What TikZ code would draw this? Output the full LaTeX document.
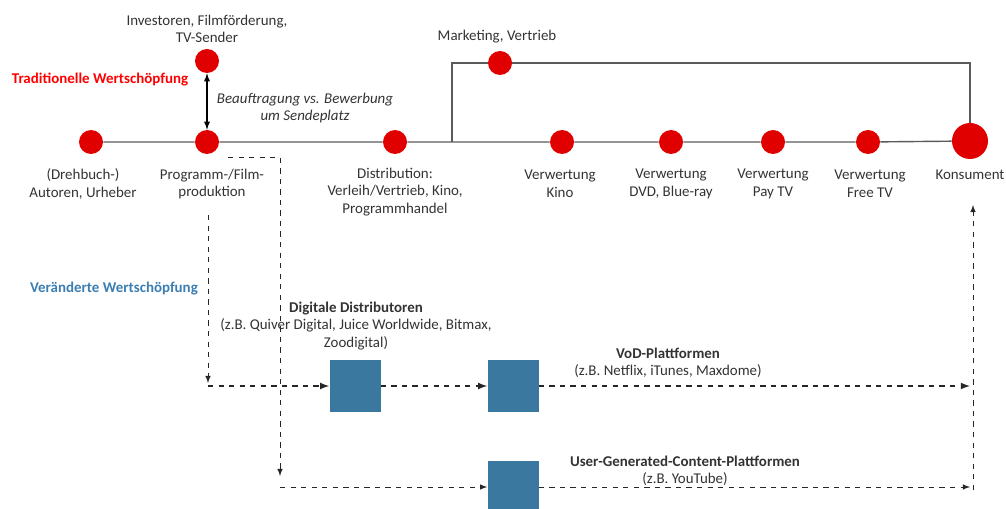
\documentclass[tikz,border=0pt]{standalone}
\usepackage{fontspec}
\setmainfont{Carlito}
\usetikzlibrary{positioning}

\definecolor{dotred}{HTML}{E00000}
\definecolor{boxblue}{HTML}{3B78A0}
\definecolor{textblue}{HTML}{3C7EB2}
\definecolor{linegray}{HTML}{5A5A5A}

\tikzset{
	chainpicture/.style = {
		x = 0.02cm,
		y = -0.02cm,
		>=latex,
		font = \fontsize{8.5}{10}\selectfont,
		flow/.style = {
			draw,
			dashed,
			->,
		}
	},
	dot/.style = {
		circle,
		fill = dotred,
		minimum size = 0.48cm,
		inner sep = 0pt
	},
	bigdot/.style = {
		dot,
		minimum size = 0.72cm
	},
	platform/.style = {
		rectangle,
		fill = boxblue,
		minimum width = 1.02cm,
		minimum height = 1.04cm,
		inner sep = 0pt
	},
	caption/.style = {
		align = center,
		text = black!80
	}
}

\begin{document}
\begin{tikzpicture}[chainpicture]
	\useasboundingbox (0,0) rectangle (1006,509);

	% traditionelle Kette
	\node[dot] (A) at (91,142) {};
	\node[dot] (P) at (207,142) {};
	\node[dot] (I) at (207,61) {};
	\node[dot] (D) at (395,142) {};
	\node[dot] (M) at (500,63) {};
	\node[dot] (VK) at (562,142) {};
	\node[dot] (VD) at (671,142) {};
	\node[dot] (VP) at (773,142) {};
	\node[dot] (VF) at (868,142) {};
	\node[bigdot] (K) at (970,141) {};

	\node[caption] (tA) at (83,184) {(Drehbuch-)\\Autoren, Urheber};
	\node[caption] (tP) at (212,184) {Programm-/Film-\\produktion};
	\node[caption] (tI) at (207,29) {Investoren, Filmförderung,\\TV-Sender};
	\node[caption] (tD) at (395,192) {Distribution:\\Verleih/Vertrieb, Kino,\\Programmhandel};
	\node[caption] (tM) at (497,37) {Marketing, Vertrieb};
	\node[caption] (tVK) at (560,184) {Verwertung\\Kino};
	\node[caption] (tVD) at (671,184) {Verwertung\\DVD, Blue-ray};
	\node[caption] (tVP) at (773,184) {Verwertung\\Pay TV};
	\node[caption] (tVF) at (870,184) {Verwertung\\Free TV};
	\node[caption] (tK) at (970,175) {Konsument};
	\node[caption, font = \fontsize{8.5}{10}\itshape] (tB) at (305,108) {Beauftragung vs. Bewerbung\\um Sendeplatz};

	\node[text = red, font = \fontsize{8.5}{10}\bfseries] (trad) at (100,80) {Traditionelle Wertschöpfung};
	\node[text = textblue, font = \fontsize{8.5}{10}\bfseries] (neu) at (114,289) {Veränderte Wertschöpfung};

	\begin{scope}[linegray, thick]
		\draw (A) -- (P) -- (D) -- (VK) -- (VD) -- (VP) -- (VF) -- (K);
		\coordinate (m1) at (452,142);
		\draw (m1) |- (M);
		\draw (M) -| (K);
		\draw[<->, black, semithick] (I) -- (P);
	\end{scope}

	% veraenderte Kette
	\node[platform] (DD) at (355,386) {};
	\node[platform] (VoD) at (513,386) {};
	\node[platform] (UGC) at (513,487) {};

	\node[caption] (tDD) at (356,326) {\textbf{Digitale Distributoren}\\(z.B. Quiver Digital, Juice Worldwide, Bitmax,\\Zoodigital)};
	\node[caption] (tVoD) at (668,363) {\textbf{VoD-Plattformen}\\(z.B. Netflix, iTunes, Maxdome)};
	\node[caption] (tUGC) at (685,471) {\textbf{User-Generated-Content-Plattformen}\\(z.B. YouTube)};

	\coordinate (p1) at (228,157);
	\coordinate (p2) at (280,476);
	\coordinate (p3) at (208,215);
	\coordinate (p4) at (208,383);
	\coordinate (p5) at (208,386);
	\coordinate (p6) at (280,487);
	\coordinate (k1) at (970,386);
	\coordinate (k2) at (970,487);
	\coordinate (k3) at (973,490);
	\coordinate (k4) at (973,205);

	\begin{scope}[every path/.style = flow, black!85]
		\path (p1) -| (p2);
		\path (p3) -- (p4);
		\path[thick] (p5) -- (DD);
		\path (p6) -- (UGC);
		\path[thick] (DD) -- (VoD);
		\path[thick] (VoD) -- (k1);
		\path (UGC) -- (k2);
		\path (k3) -- (k4);
	\end{scope}
\end{tikzpicture}
\end{document}
